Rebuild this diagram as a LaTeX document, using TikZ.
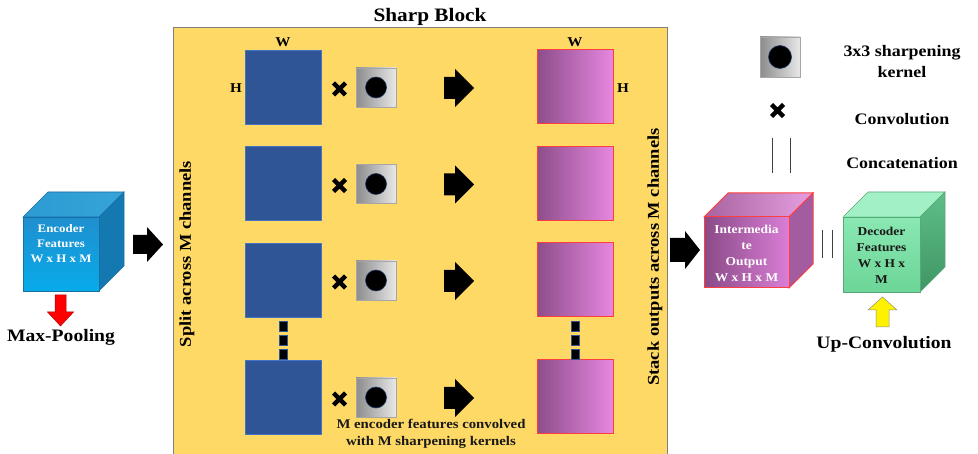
\documentclass[tikz,border=0pt]{standalone}
\usepackage{fontspec}
\setmainfont{Liberation Serif}[FakeStretch=1.12]
\definecolor{blockY}{HTML}{FFD966}
\definecolor{blockE}{HTML}{7F7F7F}
\definecolor{sqB}{HTML}{2F5597}
\definecolor{sqBE}{HTML}{4472C4}
\definecolor{pkL}{HTML}{8D4D8A}
\definecolor{pkR}{HTML}{E687E0}
\definecolor{pkE}{HTML}{FF3F3F}
\definecolor{knL}{HTML}{8C8C8C}
\definecolor{knR}{HTML}{E8E8E8}
\definecolor{knE}{HTML}{A6A6A6}
\definecolor{encA}{HTML}{1F8FCF}
\definecolor{encB}{HTML}{08ABEA}
\definecolor{encT}{HTML}{36A4D8}
\definecolor{encT2}{HTML}{2B9BD2}
\definecolor{encS}{HTML}{1479B0}
\definecolor{encE}{HTML}{1B6FA0}
\definecolor{imL}{HTML}{8A4A87}
\definecolor{imR}{HTML}{D97ED6}
\definecolor{imTL}{HTML}{A8629F}
\definecolor{imTR}{HTML}{E6A0E2}
\definecolor{imS}{HTML}{A35C9F}
\definecolor{decA}{HTML}{8AE8B3}
\definecolor{decB}{HTML}{6CD597}
\definecolor{decT}{HTML}{A2F0C6}
\definecolor{decSA}{HTML}{5FBF88}
\definecolor{decSB}{HTML}{3E9563}
\definecolor{decE}{HTML}{5AA77A}
\tikzset{
  title/.style={font=\bfseries\fontsize{19}{22}\selectfont, inner sep=0pt},
  big/.style={font=\bfseries\fontsize{17.5}{20}\selectfont, inner sep=0pt},
  leg/.style={font=\bfseries\fontsize{16}{19}\selectfont, inner sep=0pt},
  vtxt/.style={font=\bfseries\fontsize{16.5}{19}\selectfont, inner sep=0pt, rotate=90},
  dimtxt/.style={font=\bfseries\fontsize{13.5}{15}\selectfont, inner sep=0pt},
  note/.style={font=\bfseries\fontsize{13.2}{17}\selectfont, align=center, inner sep=0pt, text=black!90},
  cubetxt/.style={font=\bfseries\fontsize{11.5}{15}\selectfont, align=center, inner sep=0pt},
  bluesq/.style={draw=sqBE, fill=sqB, line width=0.8pt, minimum width=76pt, minimum height=74pt, inner sep=0pt},
  pinksq/.style={draw=pkE, left color=pkL, right color=pkR, line width=1pt, minimum width=76pt, minimum height=74pt, inner sep=0pt},
  kern/.style={draw=knE, left color=knL, right color=knR, line width=0.8pt, minimum width=40pt, minimum height=39pt, inner sep=0pt},
  kdot/.style={circle, fill=black, draw=sqB!70!black, line width=0.6pt, minimum size=21pt, inner sep=0pt},
  crossx/.style={line width=4.5pt, black},
  dashsq/.style={fill=black, draw=sqB, line width=0.5pt},
  concat/.style={line width=1pt, black!75},
  enc-front/.style={top color=encA, bottom color=encB, draw=encE, line width=0.6pt},
  enc-top/.style={left color=encT2, right color=encT, draw=encE, line width=0.6pt},
  enc-side/.style={fill=encS, draw=encE, line width=0.6pt},
  im-front/.style={left color=imL, right color=imR, draw=pkE, line width=1pt},
  im-top/.style={left color=imTL, right color=imTR, draw=pkE, line width=1pt},
  im-side/.style={fill=imS, draw=pkE, line width=1pt},
  dec-front/.style={top color=decA, bottom color=decB, draw=decE, line width=0.6pt},
  dec-top/.style={fill=decT, draw=decE, line width=0.6pt},
  dec-side/.style={top color=decSA, bottom color=decSB, draw=decE, line width=0.6pt},
}
% block arrow pointing right: x0, yc, shaft length, total length, shaft half-height, head half-height
\newcommand\rarrow[6]{%
  \fill[black] (#1,{#2-#5}) -- ({#1+#3},{#2-#5}) -- ({#1+#3},{#2-#6}) -- ({#1+#4},#2)
    -- ({#1+#3},{#2+#6}) -- ({#1+#3},{#2+#5}) -- (#1,{#2+#5}) -- cycle;}
% cube: x0,y0,x1,y1 of front face, depth, style prefix
\newcommand\mycube[6]{%
  \path[#6-top] (#1,#2) -- ({#1+#5},{#2-#5}) -- ({#3+#5},{#2-#5}) -- (#3,#2) -- cycle;
  \path[#6-side] (#3,#2) -- ({#3+#5},{#2-#5}) -- ({#3+#5},{#4-#5}) -- (#3,#4) -- cycle;
  \path[#6-front] (#1,#2) rectangle (#3,#4);}
\newcommand\crossmark[2]{%
  \draw[crossx] ({#1-6},{#2-6}) -- ({#1+6},{#2+6}) ({#1-6},{#2+6}) -- ({#1+6},{#2-6});}
\begin{document}
\begin{tikzpicture}[x=1pt,y=-1pt]
\useasboundingbox (0,0) rectangle (978,454);
\fill[white] (0,0) rectangle (978,454);

% Sharp block
\fill[blockY] (173,28) rectangle (667,454);
\draw[blockE, line width=1pt] (173,454) -- (173,28) -- (667,28) -- (667,454);
\node[title] (stitle) at (430,17) {Sharp Block};
\node[vtxt] (split) at (187,254) {Split across M channels};
\node[vtxt] (stack) at (655,257) {Stack outputs across M channels};

% rows
\foreach \i/\y in {1/87,2/183.5,3/280,4/397} {
  \node[bluesq] (b\i) at (283,\y) {};
  \node[kern] (k\i) at (376,{\y+0.5}) {};
  \node[kdot] (kd\i) at (k\i) {};
  \crossmark{339.5}{\y+2}
  \rarrow{444}{\y+1}{11}{30}{11}{19}
  \node[pinksq] (p\i) at (575,\y) {};
}
\node[dimtxt] (w1) at (283,42) {W};
\node[dimtxt] (h1) at (236,88) {H};
\node[dimtxt] (w2) at (575,42) {W};
\node[dimtxt] (h2) at (623,88) {H};
\foreach \x in {283,575} {
  \foreach \yy in {321,335,349} {
    \path[dashsq] ({\x-4},\yy) rectangle ({\x+4},{\yy+10});
  }
}
\node[note] (mnote) at (431,434) {M encoder features convolved\\with M sharpening kernels};

% encoder cube
\mycube{23}{217}{99}{291}{25}{enc}
\node[cubetxt, text=white] (enct) at (61,244) {Encoder\\Features\\W x H x M};
\rarrow{133}{244.5}{14}{30}{9.5}{17.5}
% red arrow down
\filldraw[fill=red, draw=red!70!black, line width=0.5pt]
  (55,295) -- (66,295) -- (66,312) -- (73.5,312) -- (60.5,326) -- (47.5,312) -- (55,312) -- cycle;
\node[big] (maxp) at (61,337) {Max-Pooling};

% intermediate cube
\rarrow{670}{250}{15}{30}{12}{19}
\mycube{704}{217}{789}{288}{24}{im}
\node[cubetxt, text=white, font=\bfseries\fontsize{12}{16}\selectfont] (imt) at (746.5,253) {Intermedia\\te\\Output\\W x H x M};

% concatenation between cubes
\draw[concat] (822,230) -- (822,258);
\draw[concat] (832,230) -- (832,258);

% decoder cube
\mycube{843}{217}{920}{292}{25}{dec}
\node[cubetxt, text=black!90, font=\bfseries\fontsize{12}{16}\selectfont] (dect) at (881.5,255) {Decoder\\Features\\W x H x\\M};
% yellow arrow up
\filldraw[fill=yellow, draw=black!45, line width=0.5pt]
  (876,327) -- (889,327) -- (889,310) -- (897,310) -- (882.5,297) -- (868,310) -- (876,310) -- cycle;
\node[big] (upc) at (884,344) {Up-Convolution};

% legend
\node[kern, minimum width=40pt, minimum height=40pt] (lk) at (780,57) {};
\node[kdot, minimum size=23pt] (lkd) at (lk) {};
\node[leg, align=center, font=\bfseries\fontsize{16}{21}\selectfont] (lkt) at (902,62) {3x3 sharpening\\kernel};
\crossmark{777.5}{110.5}
\node[leg] (lconv) at (902,119) {Convolution};
\draw[concat] (772,138) -- (772,173);
\draw[concat] (790,138) -- (790,173);
\node[leg] (lcat) at (902,163) {Concatenation};
\end{tikzpicture}
\end{document}
